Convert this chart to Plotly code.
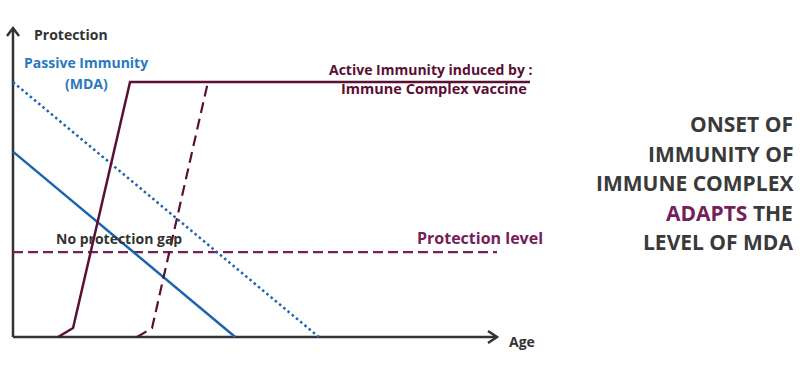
import plotly.graph_objects as go

# ---- data (age units, protection units) ----
passive_solid_age = [0, 101]
passive_solid_prot = [60, 0]

passive_dot_age = [0, 139]
passive_dot_prot = [82.5, 0]

active_age = [20.5, 27.3, 53.2, 235]
active_prot = [0, 2.9, 82.5, 82.5]

active_late_age = [56.4, 63.2, 88.6]
active_late_prot = [0, 2.9, 82.5]

level_age = [0, 220]
level_prot = [27.5, 27.5]

x_axis_end = 220
y_axis_end = 100

# ---- pixel mapping helpers (layout) ----
W, H = 800, 375
X0PX, Y0PX = 13, 337
KX, KY = 2.2, 3.09
xr = [-X0PX / KX, (W - X0PX) / KX]
yr = [-(H - Y0PX) / KY, Y0PX / KY]

DARK = "#333333"
MAROON = "#5a1035"
PURPLE = "#742059"
BLUE = "#1c64ad"
BLUE_T = "#2a78c0"

fig = go.Figure()

def line(x, y, color, width=2.5, dash=None):
    fig.add_trace(go.Scatter(x=x, y=y, mode="lines",
                             line=dict(color=color, width=width, dash=dash),
                             hoverinfo="skip", showlegend=False))

# axes
line([0, 0], [0, y_axis_end], DARK, 2.5)
line([0, x_axis_end], [0, 0], DARK, 2.5)
# arrow chevrons
line([-6 / KX, 0, 6 / KX], [y_axis_end - 8 / KY, y_axis_end, y_axis_end - 8 / KY], DARK, 2.5)
line([x_axis_end - 9 / KX, x_axis_end, x_axis_end - 9 / KX], [6 / KY, 0, -6 / KY], DARK, 2.5)

line(level_age, level_prot, PURPLE, 2.2, "10px,5px")
line(passive_dot_age, passive_dot_prot, BLUE, 2.5, "2.5px,3px")
line(passive_solid_age, passive_solid_prot, BLUE, 2.5)
line(active_late_age, active_late_prot, MAROON, 2.2, "11px,6px")
line(active_age, active_prot, MAROON, 2.5)

FONT = "Open Sans"

def txt(text, xpx, ypx, color, size=14, xanchor="left"):
    fig.add_annotation(text="<b>" + text + "</b>", x=xpx / W, y=1 - ypx / H,
                       xref="paper", yref="paper", showarrow=False,
                       xanchor=xanchor, yanchor="middle",
                       font=dict(family=FONT, size=size, color=color))

txt("Protection", 32, 34, DARK)
txt("Passive Immunity", 86, 62, BLUE_T, xanchor="center")
txt("(MDA)", 86, 83, BLUE_T, xanchor="center")
txt("Active Immunity induced by :", 431, 70, MAROON, xanchor="center")
txt("Immune Complex vaccine", 434, 88, MAROON, size=14.5, xanchor="center")
txt("No protection gap", 54, 238, DARK)
txt("Protection level", 415, 238, PURPLE, size=16)
txt("Age", 507, 341, DARK)

RT = "#3a3a3a"
right_lines = ["ONSET OF", "IMMUNITY OF", "IMMUNE COMPLEX",
               "<span style='color:%s'>ADAPTS</span> THE" % PURPLE, "LEVEL OF MDA"]
for i, t in enumerate(right_lines):
    txt(t, 795, 124 + i * 29.5, RT, size=21, xanchor="right")

fig.update_layout(
    width=W, height=H, margin=dict(l=0, r=0, t=0, b=0),
    paper_bgcolor="white", plot_bgcolor="white",
    xaxis=dict(range=xr, visible=False, fixedrange=True),
    yaxis=dict(range=yr, visible=False, fixedrange=True),
)
fig.write_html("out.html", config={"displayModeBar": False},
               post_script="document.body.style.margin='0';document.body.style.overflow='hidden';")
